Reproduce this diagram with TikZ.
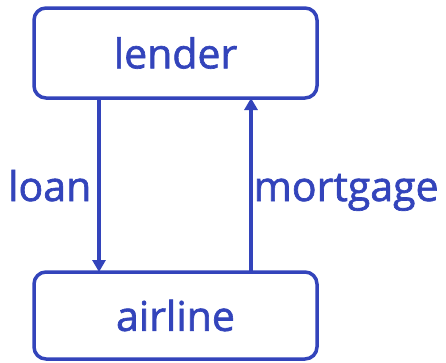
\documentclass[tikz,border=0pt]{standalone}
\usepackage{fontspec}
\setmainfont{Open Sans}[FakeBold=1.6,AutoFakeBold=1.6]
\usepackage{tikz}
\usetikzlibrary{calc,positioning,arrows.meta}
\definecolor{ink}{RGB}{51,68,187}
\tikzset{
	party/.style={shape=rectangle,draw=ink,line width=3.5pt,rounded corners=12pt,minimum width=283pt,text=ink,font=\fontsize{41}{45}\selectfont\bfseries,outer sep=0pt},
	flow/.style={draw=ink,line width=3.5pt,-{Triangle[length=12pt,width=13pt]}},
	flowlabel/.style={text=ink,font=\fontsize{41}{45}\selectfont\bfseries,yshift=-16pt}
}

\begin{document}
\begin{tikzpicture}[x=1pt,y=-1pt]
	\useasboundingbox (0,0) rectangle (446,362);
	\node(lender) [party,minimum height=90pt] at (175.5,53) {lender};
	\node(airline) [party,minimum height=87pt] at (175.5,315.5) {airline};
	\coordinate (loanx) at (99,0);
	\coordinate (mortx) at (251,0);
	\draw [flow] (lender.south -| loanx) -- (airline.north -| loanx)
		node [midway,anchor=base east,flowlabel,inner xsep=6pt] {loan};
	\draw [flow] (airline.north -| mortx) -- (lender.south -| mortx)
		node [midway,anchor=base west,flowlabel,inner xsep=1pt] {mortgage};
\end{tikzpicture}
\end{document}
